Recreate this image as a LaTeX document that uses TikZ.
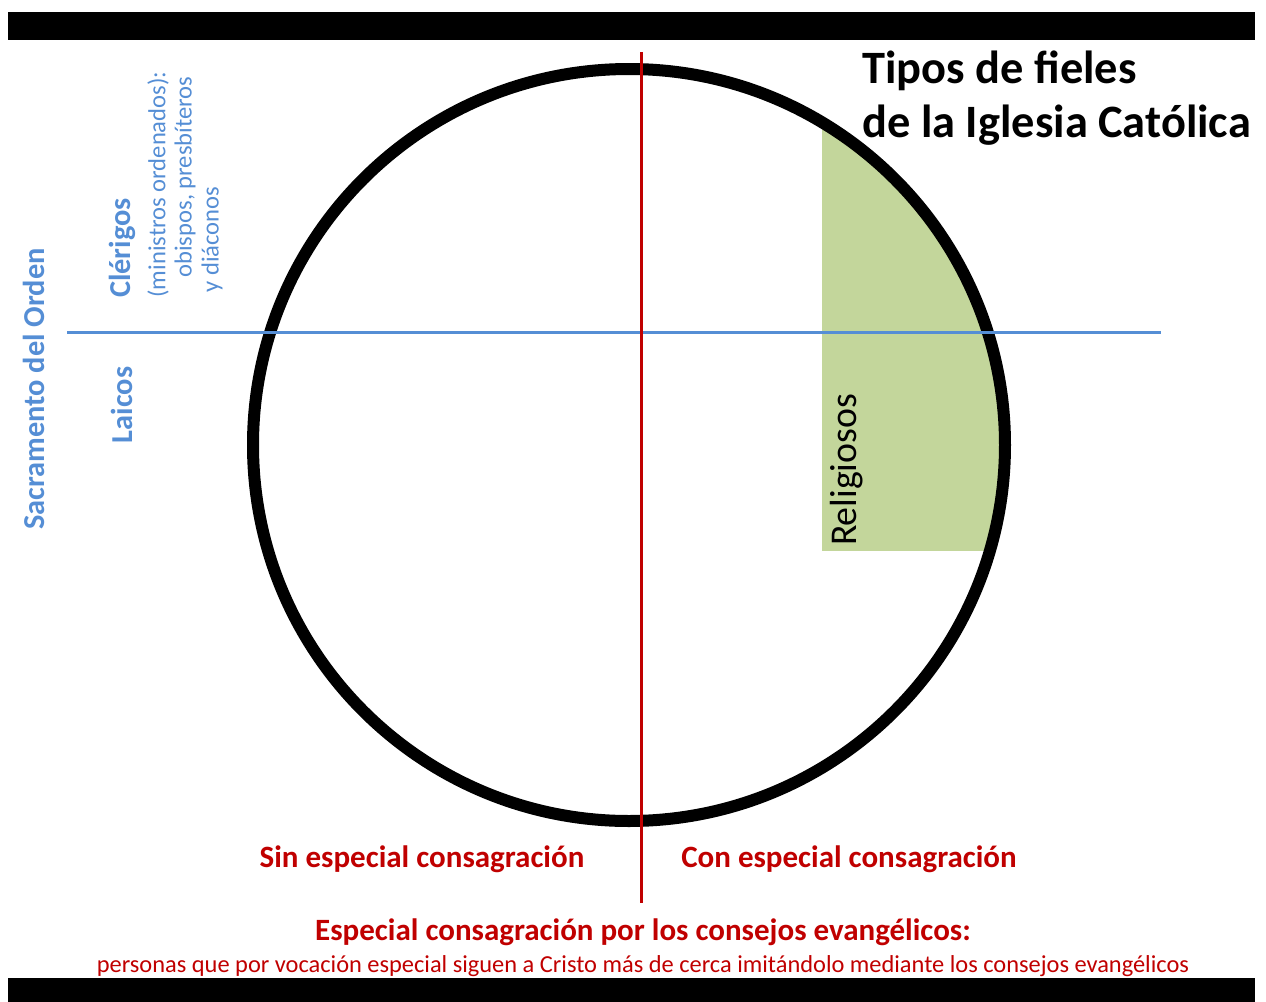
\documentclass[tikz,border=0pt]{standalone}
\usepackage{fontspec}
\setmainfont{Carlito}
\definecolor{ordenblue}{RGB}{85,142,213}
\definecolor{consred}{RGB}{192,0,0}
\definecolor{relgreen}{RGB}{195,214,155}

\begin{document}
\begin{tikzpicture}[x=0.5pt,y=-0.5pt,
    bluelbl/.style={text=ordenblue,font=\bfseries\fontsize{15.2}{17}\selectfont,rotate=90},
    bluesmall/.style={text=ordenblue,font=\fontsize{12.3}{14}\selectfont,rotate=90,anchor=west,inner sep=0pt},
    titlbl/.style={anchor=base west,inner sep=0pt,font=\bfseries\fontsize{23.2}{26}\selectfont},
    redlbl/.style={text=consred,font=\bfseries\fontsize{15.5}{17}\selectfont}]
    \useasboundingbox (0,0) rectangle (1266,1002);
    \foreach \ya/\yb in {12/40,978/1002}{
        \fill (8,\ya) rectangle (1255,\yb);
    }
    \coordinate (c) at (629,445);
    \begin{scope}
        \clip (c) circle (376);
        \fill[relgreen] (822,0) rectangle (1100,551);
    \end{scope}
    \draw[line width=6pt] (c) circle (376);
    \coordinate (bl) at (67,332);
    \coordinate (br) at (1161,332);
    \coordinate (rt) at (641,52);
    \coordinate (rb) at (641,903);
    \draw[ordenblue, line width=1.5pt] (bl) -- (br);
    \draw[consred, line width=1.5pt] (rt) -- (rb);
    \node[titlbl] (titulo1) at (862,83) {Tipos de fieles};
    \node[titlbl] (titulo2) at (862,137) {de la Iglesia Católica};
    \node[bluelbl] (orden) at (34,389) {Sacramento del Orden};
    \node[bluelbl] (clerigos) at (122,248) {Clérigos};
    \node[bluelbl] (laicos) at (122,405) {Laicos};
    \foreach \x/\y/\t [count=\i] in {158/298/{(ministros ordenados):},185/278/{obispos, presbíteros},212/293/{y diáconos}}{
        \node[bluesmall] (min\i) at (\x,\y) {\t};
    }
    \node[rotate=90, font=\fontsize{18.9}{21}\selectfont] (religiosos) at (847,470) {Religiosos};
    \node[redlbl] (sin) at (422,859) {Sin especial consagración};
    \node[redlbl] (con) at (849,859) {Con especial consagración};
    \node[redlbl] (especial) at (643,932) {Especial consagración por los consejos evangélicos:};
    \node[text=consred, font=\fontsize{12.2}{14}\selectfont] (personas) at (643,966) {personas que por vocación especial siguen a Cristo más de cerca imitándolo mediante los consejos evangélicos};
\end{tikzpicture}
\end{document}
